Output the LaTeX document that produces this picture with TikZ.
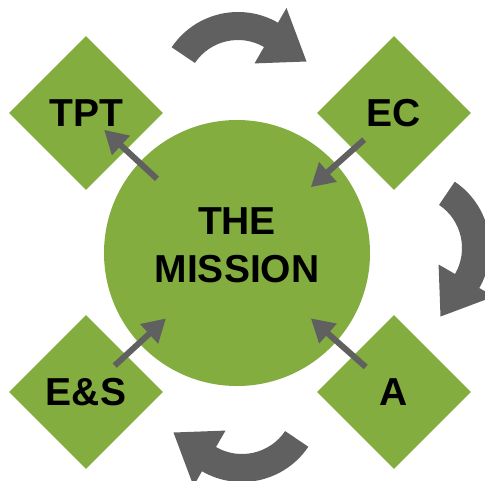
\documentclass[tikz,border=0pt]{standalone}
\usepackage{fontspec}
\setmainfont{Liberation Sans}
\usetikzlibrary{shapes.geometric,arrows.meta,calc}
\definecolor{leafgreen}{RGB}{131,173,63}
\definecolor{pushgray}{RGB}{96,96,96}
\begin{document}
\begin{tikzpicture}[x=1pt,y=1pt,
  box/.style={diamond,fill=leafgreen,minimum width=154pt,minimum height=154pt,inner sep=0pt,font=\fontsize{39}{48}\selectfont\bfseries},
  hub/.style={circle,fill=leafgreen,minimum size=266pt,inner sep=0pt},
  hubtext/.style={align=center,inner sep=0pt,font=\fontsize{39}{48}\selectfont\bfseries},
  feed/.style={draw=pushgray,line width=6pt,-{Triangle[length=23pt,width=25pt]}},
  cyclearrow/.pic={
    \fill[pushgray] (146:52) -- (146:80) arc[start angle=146,end angle=60,radius=80]
      -- (60:97) -- (24:75) -- (60:33) -- (60:52) arc[start angle=60,end angle=146,radius=52] -- cycle;
  }]
\useasboundingbox (0,0) rectangle (485,-480);

\node[hub] (mission) at (237,-253) {};
\node[hubtext] (title) at (237,-245) {THE\\MISSION};

\node[box] (tpt) at (86,-113) {TPT};
\node[box] (ec) at (394,-113) {EC};
\node[box] (es) at (86,-392) {E\&S};
\node[box] (a) at (394,-392) {A};

\draw[feed] ($(mission)!0.53!(tpt)$) -- ($(mission)!0.88!(tpt)$);
\draw[feed] ($(mission)!0.81!(ec)$) -- ($(mission)!0.47!(ec)$);
\draw[feed] ($(mission)!0.81!(es)$) -- ($(mission)!0.47!(es)$);
\draw[feed] ($(mission)!0.82!(a)$) -- ($(mission)!0.47!(a)$);

\pic at (238,-92) {cyclearrow};
\pic[rotate=-90] at (410,-248) {cyclearrow};
\pic[rotate=180] at (242,-402) {cyclearrow};
\end{tikzpicture}
\end{document}
